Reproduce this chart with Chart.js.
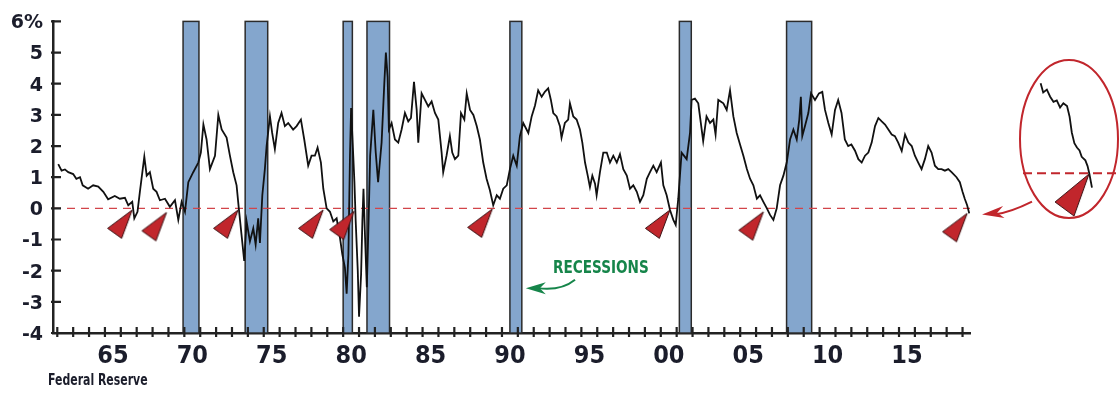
<!DOCTYPE html>
<html>
<head>
<meta charset="utf-8">
<script src="https://cdn.jsdelivr.net/npm/chart.js@4.4.1/dist/chart.umd.min.js"></script>
<style>
  html, body { margin: 0; padding: 0; background: #fff; }
  #wrap { position: relative; width: 1120px; height: 402px; overflow: hidden; }
  #main { position: absolute; left: 0; top: 0; }
  #inset { position: absolute; left: 1000px; top: 50px; }
  .note { position: absolute; font-family: 'Liberation Sans Narrow', 'DejaVu Sans Condensed', sans-serif; font-weight: bold; white-space: nowrap; transform-origin: 0 50%; }
  #source { left: 48px; top: 371px; font-size: 15px; color: #1b1d2b; transform: scaleX(0.81); }
  #recLabel { left: 553px; top: 256px; font-size: 18px; color: #16854a; transform: scaleX(0.84); }
</style>
</head>
<body>
<div id="wrap">
  <canvas id="main" width="1120" height="402"></canvas>
  <canvas id="inset" width="120" height="175"></canvas>
  <div class="note" id="source">Federal Reserve</div>
  <div class="note" id="recLabel">RECESSIONS</div>
</div>
<script>
// yield spread, %
const years = [
    1962.06, 1962.27, 1962.48, 1962.69, 1963.0, 1963.2, 1963.43, 1963.6, 1963.94, 1964.26,
    1964.58, 1964.9, 1965.2, 1965.62, 1965.94, 1966.26, 1966.47, 1966.72, 1966.85, 1967.05,
    1967.2, 1967.48, 1967.63, 1967.83, 1968.04, 1968.25, 1968.46, 1968.78, 1969.09, 1969.41,
    1969.62, 1969.83, 1970.04, 1970.25, 1970.56, 1970.88, 1971.04, 1971.2, 1971.4, 1971.61,
    1971.93, 1972.14, 1972.35, 1972.66, 1972.87, 1973.08, 1973.29, 1973.43, 1973.6, 1973.77,
    1973.92, 1974.13, 1974.34, 1974.49, 1974.65, 1974.76, 1974.91, 1975.07, 1975.18, 1975.39,
    1975.53, 1975.7, 1975.91, 1976.12, 1976.33, 1976.54, 1976.85, 1977.07, 1977.34, 1977.55,
    1977.8, 1978.01, 1978.22, 1978.39, 1978.6, 1978.75, 1978.96, 1979.17, 1979.38, 1979.59,
    1979.8, 1979.95, 1980.11, 1980.22, 1980.33, 1980.43, 1980.5, 1980.58, 1980.71, 1980.79,
    1980.92, 1981.0, 1981.13, 1981.21, 1981.28, 1981.38, 1981.49, 1981.6, 1981.7, 1981.9,
    1982.05, 1982.2, 1982.42, 1982.59, 1982.69, 1982.8, 1982.88, 1983.05, 1983.26, 1983.47,
    1983.68, 1983.89, 1984.1, 1984.27, 1984.46, 1984.63, 1984.73, 1984.94, 1985.15, 1985.36,
    1985.57, 1985.78, 1985.99, 1986.2, 1986.3, 1986.51, 1986.72, 1986.87, 1987.04, 1987.25,
    1987.42, 1987.63, 1987.78, 1987.99, 1988.2, 1988.41, 1988.61, 1988.82, 1989.03, 1989.24,
    1989.45, 1989.67, 1989.87, 1990.08, 1990.3, 1990.5, 1990.71, 1990.93, 1991.13, 1991.34,
    1991.66, 1991.87, 1992.08, 1992.28, 1992.5, 1992.7, 1992.91, 1993.08, 1993.23, 1993.44,
    1993.65, 1993.75, 1993.96, 1994.17, 1994.28, 1994.49, 1994.7, 1994.91, 1995.06, 1995.23,
    1995.4, 1995.54, 1995.69, 1995.86, 1995.96, 1996.17, 1996.38, 1996.6, 1996.8, 1997.01,
    1997.23, 1997.43, 1997.64, 1997.86, 1998.06, 1998.27, 1998.49, 1998.69, 1998.9, 1999.12,
    1999.32, 1999.53, 1999.74, 2000.01, 2000.16, 2000.37, 2000.58, 2000.79, 2000.94, 2001.1,
    2001.31, 2001.63, 2001.84, 2001.94, 2002.15, 2002.36, 2002.67, 2002.88, 2003.1, 2003.31,
    2003.45, 2003.62, 2003.94, 2004.15, 2004.36, 2004.57, 2004.78, 2004.99, 2005.2, 2005.42,
    2005.62, 2005.83, 2006.05, 2006.25, 2006.46, 2006.68, 2006.88, 2007.09, 2007.3, 2007.51,
    2007.72, 2007.93, 2008.14, 2008.35, 2008.56, 2008.72, 2008.82, 2008.91, 2009.08, 2009.29,
    2009.46, 2009.71, 2009.96, 2010.17, 2010.34, 2010.55, 2010.76, 2010.97, 2011.17, 2011.38,
    2011.59, 2011.8, 2012.0, 2012.23, 2012.44, 2012.65, 2012.86, 2013.07, 2013.28, 2013.49,
    2013.7, 2013.91, 2014.12, 2014.33, 2014.54, 2014.74, 2014.95, 2015.17, 2015.38, 2015.59,
    2015.8, 2016.0, 2016.21, 2016.42, 2016.63, 2016.84, 2017.05, 2017.26, 2017.47, 2017.68,
    2017.89, 2018.1, 2018.31, 2018.62, 2018.83, 2019.0, 2019.14, 2019.29, 2019.42
]
const spread = [
    1.42, 1.21, 1.25, 1.16, 1.10, 0.95, 1.0, 0.74, 0.63, 0.74,
    0.70, 0.53, 0.29, 0.40, 0.31, 0.34, 0.10, 0.21, -0.32, -0.11,
    0.53, 1.66, 1.05, 1.16, 0.63, 0.53, 0.26, 0.31, 0.05, 0.26,
    -0.37, 0.21, -0.11, 0.84, 1.16, 1.47, 1.79, 2.69, 2.21, 1.26,
    1.69, 3.0, 2.53, 2.27, 1.69, 1.16, 0.74, 0.0, -0.84, -1.69,
    -0.42, -1.06, -0.64, -1.16, -0.32, -1.11, 0.42, 1.26, 2.0, 2.95,
    2.42, 1.9, 2.74, 3.06, 2.64, 2.74, 2.53, 2.64, 2.85, 2.21,
    1.37, 1.69, 1.69, 1.95, 1.47, 0.63, 0.0, -0.11, -0.42, -0.32,
    -0.95, -1.48, -1.9, -2.74, -1.48, 1.69, 3.22, 2.32, 0.84, -0.42,
    -2.0, -3.48, -2.11, -0.42, 0.63, -0.95, -2.53, -0.42, 1.69, 3.16,
    1.8, 0.84, 2.11, 4.0, 5.0, 4.22, 2.53, 2.74, 2.21, 2.11,
    2.53, 3.06, 2.79, 2.9, 4.06, 3.16, 2.11, 3.69, 3.48, 3.27,
    3.43, 3.06, 2.85, 1.79, 1.16, 1.69, 2.32, 1.79, 1.58, 1.69,
    3.06, 2.85, 3.69, 3.16, 3.0, 2.64, 2.21, 1.47, 0.95, 0.58,
    0.1, 0.42, 0.31, 0.63, 0.74, 1.26, 1.69, 1.37, 2.32, 2.74,
    2.42, 2.95, 3.3, 3.79, 3.58, 3.74, 3.85, 3.48, 3.06, 2.95,
    2.64, 2.27, 2.74, 2.85, 3.37, 2.95, 2.85, 2.53, 2.11, 1.47,
    1.05, 0.68, 1.05, 0.79, 0.42, 1.16, 1.79, 1.79, 1.47, 1.69,
    1.47, 1.74, 1.26, 1.05, 0.63, 0.74, 0.53, 0.21, 0.42, 0.95,
    1.16, 1.37, 1.16, 1.47, 0.74, 0.42, -0.05, -0.37, -0.53, 0.31,
    1.79, 1.58, 2.42, 3.48, 3.52, 3.37, 2.16, 2.95, 2.74, 2.85,
    2.37, 3.48, 3.37, 3.16, 3.79, 2.95, 2.42, 2.05, 1.69, 1.26,
    0.95, 0.74, 0.31, 0.42, 0.21, 0.0, -0.21, -0.37, 0.0, 0.74,
    1.05, 1.47, 2.21, 2.53, 2.21, 2.85, 3.58, 2.32, 2.64, 3.06,
    3.69, 3.48, 3.69, 3.74, 3.16, 2.74, 2.37, 3.16, 3.48, 3.06,
    2.21, 2.0, 2.05, 1.85, 1.58, 1.47, 1.69, 1.79, 2.11, 2.64,
    2.9, 2.79, 2.69, 2.53, 2.37, 2.32, 2.11, 1.84, 2.37, 2.11,
    2.0, 1.69, 1.47, 1.26, 1.58, 2.0, 1.79, 1.37, 1.26, 1.26,
    1.21, 1.26, 1.16, 1.0, 0.84, 0.53, 0.31, 0.1, -0.16
]

// NBER recessions
const recessionStart = [1969.92, 1973.83, 1980.0, 1981.5, 1990.5, 2001.17, 2007.92]
const recessionEnd = [1970.92, 1975.25, 1980.58, 1982.92, 1991.25, 2001.92, 2009.5]

// red wedges where the curve inverts
const signalYears = [1966.72, 1968.88, 1973.39, 1978.74, 1980.7, 1989.39, 2000.58, 2006.46, 2019.29]
const signalValues = [-0.05, -0.13, -0.05, -0.05, -0.09, -0.02, -0.05, -0.11, -0.16]

// blow-up of the latest stretch
const insetYears = [
    2017.94, 2018.01, 2018.11, 2018.2, 2018.29, 2018.38, 2018.47, 2018.56, 2018.66, 2018.73,
    2018.79, 2018.86, 2018.93, 2019.0, 2019.06, 2019.16, 2019.22, 2019.27, 2019.34
]
const insetValues = [
    1.26, 1.13, 1.17, 1.07, 1.0, 1.02, 0.92, 0.98, 0.94, 0.79,
    0.57, 0.42, 0.36, 0.32, 0.23, 0.18, 0.1, -0.01, -0.2
]
const insetSignal = [2019.26, -0.01]

const yTicks = [-4, -3, -2, -1, 0, 1, 2, 3, 4, 5, 6]
const tickYears = []
for (let yr = 1962; yr <= 2019; yr++) tickYears.push(yr)

const xMin = 1961.73
const xMax = 2019.47
const ink = '#1b1d2b'
const narrow = "'Liberation Sans Narrow', 'DejaVu Sans Condensed', sans-serif"

function makeWedge(size, a, b) {
    const c = document.createElement('canvas')
    c.width = size
    c.height = size
    const g = c.getContext('2d')
    const m = size / 2
    g.beginPath()
    g.moveTo(m, m)
    g.lineTo(m + a[0], m + a[1])
    g.lineTo(m + b[0], m + b[1])
    g.closePath()
    g.fillStyle = '#c1262c'
    g.fill()
    g.strokeStyle = '#3b1214'
    g.lineWidth = 1
    g.stroke()
    return c
}
const wedge = makeWedge(64, [-24.6, 18.4], [-10.6, 28.4])
const bigWedge = makeWedge(100, [-34, 28], [-15, 42])

function arrowHead(ctx, tip, dir, len, half) {
    const [dx, dy] = dir
    const nx = -dy, ny = dx
    ctx.beginPath()
    ctx.moveTo(tip[0], tip[1])
    ctx.lineTo(tip[0] + dx * len + nx * half, tip[1] + dy * len + ny * half)
    ctx.lineTo(tip[0] + dx * len * 0.7, tip[1] + dy * len * 0.7)
    ctx.lineTo(tip[0] + dx * len - nx * half, tip[1] + dy * len - ny * half)
    ctx.closePath()
    ctx.fill()
}

const recessionBars = {
    id: 'recessionBars',
    beforeDatasetsDraw(chart) {
        const { ctx, scales: { x, y } } = chart
        const top = y.getPixelForValue(6)
        const bottom = y.getPixelForValue(-4)
        ctx.save()
        ctx.fillStyle = '#84a6cd'
        ctx.strokeStyle = '#2b2b2b'
        ctx.lineWidth = 1.5
        recessionStart.forEach((s, i) => {
            const left = x.getPixelForValue(s)
            const right = x.getPixelForValue(recessionEnd[i])
            ctx.fillRect(left, top, right - left, bottom - top)
            ctx.strokeRect(left, top, right - left, bottom - top)
        })
        ctx.restore()
    }
}

const axisDecor = {
    id: 'axisDecor',
    afterDraw(chart) {
        const { ctx, scales: { x, y }, chartArea } = chart
        ctx.save()
        ctx.strokeStyle = '#222'
        ctx.lineWidth = 2.2
        ctx.beginPath()
        x.ticks.forEach(t => {
            const px = x.getPixelForValue(t.value)
            ctx.moveTo(px, chartArea.bottom - 6)
            ctx.lineTo(px, chartArea.bottom + 4)
        })
        y.ticks.forEach(t => {
            const py = y.getPixelForValue(t.value)
            ctx.moveTo(chartArea.left - 2, py)
            ctx.lineTo(chartArea.left + 8, py)
        })
        ctx.stroke()

        // green pointer under RECESSIONS
        const gTip = [x.getPixelForValue(1991.5), y.getPixelForValue(-2.56)]
        const gStart = [x.getPixelForValue(1994.6), y.getPixelForValue(-2.29)]
        ctx.strokeStyle = '#16854a'
        ctx.fillStyle = '#16854a'
        ctx.lineWidth = 2
        ctx.beginPath()
        ctx.moveTo(gStart[0], gStart[1])
        ctx.quadraticCurveTo(gStart[0] - 14, gTip[1] + 3, gTip[0] + 12, gTip[1])
        ctx.stroke()
        arrowHead(ctx, gTip, [1, 0], 20, 6)

        // red pointer from the inset back to the chart end
        const rTip = [chartArea.right + 12, y.getPixelForValue(-0.2)]
        ctx.strokeStyle = '#c1262c'
        ctx.fillStyle = '#c1262c'
        ctx.beginPath()
        ctx.moveTo(rTip[0] + 50, rTip[1] - 13)
        ctx.quadraticCurveTo(rTip[0] + 28, rTip[1] - 2, rTip[0] + 12, rTip[1])
        ctx.stroke()
        arrowHead(ctx, rTip, [0.99, -0.12], 22, 6)
        ctx.restore()
    }
}

new Chart(document.getElementById('main'), {
    type: 'line',
    data: {
        datasets: [
            {
                type: 'scatter',
                data: signalYears.map((v, i) => ({ x: v, y: signalValues[i] })),
                pointStyle: wedge,
                pointRadius: 12,
                clip: false,
                order: 0
            },
            {
                data: years.map((v, i) => ({ x: v, y: spread[i] })),
                borderColor: '#111',
                borderWidth: 1.8,
                pointRadius: 0,
                tension: 0,
                order: 1
            },
            {
                data: [{ x: xMin, y: 0 }, { x: xMax, y: 0 }],
                borderColor: '#d2444a',
                borderWidth: 1.3,
                borderDash: [8, 6],
                pointRadius: 0,
                order: 2
            }
        ]
    },
    options: {
        responsive: false,
        animation: false,
        events: [],
        layout: { padding: { top: 17, right: 150, left: 0, bottom: 0 } },
        plugins: { legend: { display: false }, tooltip: { enabled: false } },
        scales: {
            x: {
                type: 'linear',
                min: xMin,
                max: xMax,
                afterBuildTicks: scale => { scale.ticks = tickYears.map(v => ({ value: v })) },
                afterFit: scale => { scale.height = 69 },
                grid: { display: false, drawTicks: false },
                border: { display: true, color: '#222', width: 2.5 },
                ticks: {
                    autoSkip: false,
                    maxRotation: 0,
                    minRotation: 0,
                    padding: 8,
                    labelOffset: 8,
                    color: ink,
                    font: { family: narrow, size: 25, weight: 'bold', lineHeight: 1.2 },
                    callback: v => v % 5 === 0 ? String(v % 100).padStart(2, '0') : ''
                }
            },
            y: {
                min: -4,
                max: 6,
                afterBuildTicks: scale => { scale.ticks = yTicks.map(v => ({ value: v })) },
                afterFit: scale => { scale.width = 53 },
                grid: { display: false, drawTicks: false },
                border: { display: true, color: '#222', width: 2.5 },
                ticks: {
                    padding: 10,
                    labelOffset: 2,
                    color: ink,
                    font: { family: "'DejaVu Sans', sans-serif", size: 19, weight: 'bold' },
                    callback: v => v === 6 ? '6%' : String(v)
                }
            }
        }
    },
    plugins: [recessionBars, axisDecor]
})

const insetFrame = {
    id: 'insetFrame',
    beforeDatasetsDraw(chart) {
        const { ctx, scales: { y } } = chart
        const zero = y.getPixelForValue(0)
        ctx.save()
        ctx.strokeStyle = '#c1262c'
        ctx.lineWidth = 2
        ctx.beginPath()
        ctx.ellipse(69, 89, 49, 79, 0, 0, Math.PI * 2)
        ctx.stroke()
        ctx.setLineDash([9, 5])
        ctx.beginPath()
        ctx.moveTo(23, zero)
        ctx.lineTo(118, zero)
        ctx.stroke()
        ctx.restore()
    }
}

new Chart(document.getElementById('inset'), {
    type: 'line',
    data: {
        datasets: [
            {
                type: 'scatter',
                data: [{ x: insetSignal[0], y: insetSignal[1] }],
                pointStyle: bigWedge,
                pointRadius: 15,
                clip: false,
                order: 0
            },
            {
                data: insetYears.map((v, i) => ({ x: v, y: insetValues[i] })),
                borderColor: '#111',
                borderWidth: 1.8,
                pointRadius: 0,
                clip: false,
                order: 1
            }
        ]
    },
    options: {
        responsive: false,
        animation: false,
        events: [],
        layout: { padding: { left: 41, right: 24, top: 8, bottom: 12 } },
        plugins: { legend: { display: false }, tooltip: { enabled: false } },
        scales: {
            x: { type: 'linear', display: false, min: 2017.95, max: 2019.45 },
            y: { display: false, min: -0.5, max: 1.5 }
        }
    },
    plugins: [insetFrame]
})
</script>
</body>
</html>
